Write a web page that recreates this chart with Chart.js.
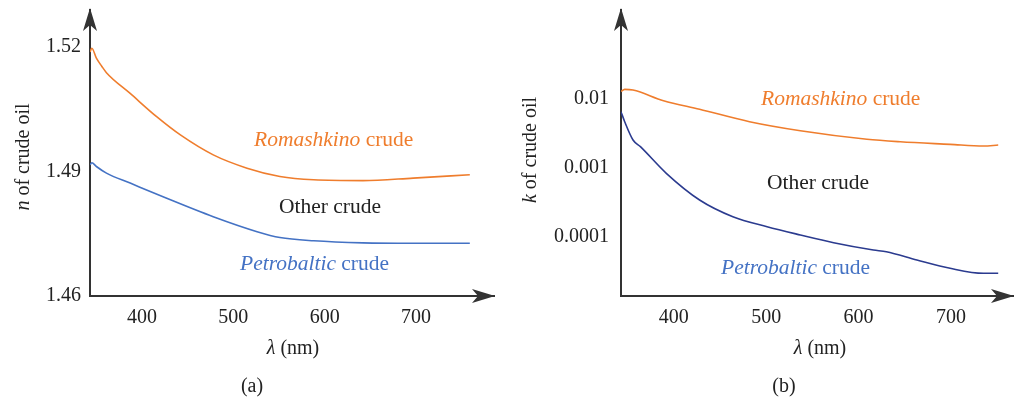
<!DOCTYPE html>
<html>
<head>
<meta charset="utf-8">
<script src="https://cdn.jsdelivr.net/npm/chart.js@4.4.1/dist/chart.umd.min.js"></script>
<style>
    body { margin: 0; background: #fff; overflow: hidden; }
    .panel { position: absolute; top: 0; width: 507px; height: 400px; }
</style>
</head>
<body>
<div class="panel" style="left:0"><canvas id="chartA" width="507" height="400"></canvas></div>
<div class="panel" style="left:507px"><canvas id="chartB" width="507" height="400"></canvas></div>
<script>
// (a) refractive index n
const lambdaRomA = [343, 345, 350, 356, 361, 387, 416, 442, 478, 515, 551, 588, 642, 697, 759];
const nRomA = [1.5188, 1.5197, 1.5173, 1.5153, 1.5138, 1.5088, 1.5032, 1.4988, 1.4940, 1.4908, 1.4888, 1.4880, 1.4878, 1.4884, 1.4892];
const lambdaPetA = [343, 345, 350, 361, 387, 423, 478, 526, 551, 588, 642, 697, 759];
const nPetA = [1.4916, 1.4921, 1.4912, 1.4896, 1.4872, 1.4839, 1.4791, 1.4755, 1.4741, 1.4733, 1.4728, 1.4727, 1.4727];

// (b) absorption index k
const lambdaRomB = [343, 347, 356, 389, 428, 482, 537, 609, 645, 699, 735, 751];
const kRomB = [0.0128, 0.0138, 0.0135, 0.00945, 0.0071, 0.00469, 0.00347, 0.00261, 0.0024, 0.0022, 0.00208, 0.00215];
const lambdaPetB = [343, 347, 356, 364, 392, 428, 464, 501, 537, 573, 616, 630, 663, 699, 735, 751];
const kPetB = [0.00654, 0.00469, 0.00255, 0.00204, 0.000838, 0.000344, 0.000197, 0.000141, 0.000107, 0.0000827, 0.0000648, 0.0000612, 0.0000465, 0.0000352, 0.0000298, 0.0000298];

const xTicks = [400, 500, 600, 700];
const yTicksA = [1.46, 1.49, 1.52];
const yTicksB = [0.0001, 0.001, 0.01];

const ORANGE = "#ef7d2d";
const BLUE = "#4472c4";
const NAVY = "#2b3b8f";
const INK = "#222";
const AXIS = "#333";
const SERIF = "'Liberation Serif', 'DejaVu Serif', serif";

function pts(xs, ys) {
    return xs.map((x, i) => ({ x: x, y: ys[i] }));
}

function lineSet(data, color) {
    return {
        data: data,
        borderColor: color,
        borderWidth: 1.6,
        pointRadius: 0,
        fill: false,
        cubicInterpolationMode: "monotone"
    };
}

function drawMixed(ctx, parts, x, y, size) {
    ctx.textBaseline = "middle";
    ctx.textAlign = "left";
    parts.forEach(p => {
        ctx.font = (p.italic ? "italic " : "") + size + "px " + SERIF;
        ctx.fillStyle = p.color;
        ctx.fillText(p.t, x, y);
        x += ctx.measureText(p.t).width;
    });
}

function decor(cfg) {
    return {
        id: "decor",
        afterDraw(chart) {
            const ctx = chart.ctx;
            const a = chart.chartArea;
            ctx.save();
            // arrow heads
            ctx.fillStyle = AXIS;
            ctx.beginPath();
            ctx.moveTo(a.left, 8);
            ctx.lineTo(a.left - 7, 31);
            ctx.lineTo(a.left, 25);
            ctx.lineTo(a.left + 7, 31);
            ctx.closePath();
            ctx.fill();
            const tip = a.right + 1;
            ctx.beginPath();
            ctx.moveTo(tip, a.bottom);
            ctx.lineTo(tip - 23, a.bottom - 7);
            ctx.lineTo(tip - 17, a.bottom);
            ctx.lineTo(tip - 23, a.bottom + 7);
            ctx.closePath();
            ctx.fill();

            // curve labels
            cfg.notes.forEach(n => drawMixed(ctx, n.parts, n.x, n.y, 21.5));

            // y title (rotated)
            ctx.translate(cfg.yTitle.x, cfg.yTitle.y);
            ctx.rotate(-Math.PI / 2);
            ctx.font = "italic 20px " + SERIF;
            const w1 = ctx.measureText(cfg.yTitle.sym).width;
            ctx.font = "20px " + SERIF;
            const w2 = ctx.measureText(" of crude oil").width;
            drawMixed(ctx, [
                { t: cfg.yTitle.sym, italic: true, color: INK },
                { t: " of crude oil", italic: false, color: INK }
            ], -(w1 + w2) / 2, 0, 20);
            ctx.setTransform(1, 0, 0, 1, 0, 0);

            // x title and panel tag
            ctx.font = "italic 20px " + SERIF;
            const l1 = ctx.measureText("λ").width;
            ctx.font = "20px " + SERIF;
            const l2 = ctx.measureText(" (nm)").width;
            drawMixed(ctx, [
                { t: "λ", italic: true, color: INK },
                { t: " (nm)", italic: false, color: INK }
            ], cfg.xTitleX - (l1 + l2) / 2, 349, 20);
            ctx.textAlign = "center";
            ctx.fillStyle = INK;
            ctx.fillText(cfg.tag, cfg.tagX, 387);
            ctx.restore();
        }
    };
}

function makeChart(id, opts) {
    new Chart(document.getElementById(id).getContext("2d"), {
        type: "line",
        data: { datasets: opts.datasets },
        options: {
            responsive: false,
            animation: false,
            layout: { padding: { top: 10, right: opts.padRight, left: 0, bottom: 0 } },
            plugins: { legend: { display: false }, tooltip: { enabled: false } },
            scales: {
                x: {
                    type: "linear",
                    min: 343,
                    max: opts.xMax,
                    grid: { display: false, drawTicks: false },
                    border: { display: true, color: AXIS, width: 2 },
                    afterBuildTicks: s => { s.ticks = xTicks.map(v => ({ value: v })); },
                    afterFit: s => { s.height = 104; s.paddingLeft = 0; s.paddingRight = 0; },
                    ticks: { color: INK, padding: 10, font: { family: SERIF, size: 20 } }
                },
                y: {
                    type: opts.yType,
                    min: opts.yMin,
                    max: opts.yMax,
                    grid: { display: false, drawTicks: false },
                    border: { display: true, color: AXIS, width: 2 },
                    afterBuildTicks: s => { s.ticks = opts.yTicks.map(v => ({ value: v })); },
                    afterFit: s => { s.width = opts.axisLeft; s.paddingTop = 0; s.paddingBottom = 0; },
                    ticks: {
                        color: INK,
                        padding: opts.yPad,
                        font: { family: SERIF, size: 20 },
                        callback: v => String(v)
                    }
                }
            }
        },
        plugins: [decor(opts.decor)]
    });
}

document.addEventListener("DOMContentLoaded", function () {
    makeChart("chartA", {
        datasets: [
            lineSet(pts(lambdaRomA, nRomA), ORANGE),
            lineSet(pts(lambdaPetA, nPetA), BLUE)
        ],
        xMax: 785.5,
        padRight: 13,
        axisLeft: 90,
        yType: "linear",
        yMin: 1.46,
        yMax: 1.5289,
        yTicks: yTicksA,
        yPad: 9,
        decor: {
            notes: [
                { x: 254, y: 140, parts: [{ t: "Romashkino", italic: true, color: ORANGE }, { t: " crude", color: ORANGE }] },
                { x: 279, y: 207, parts: [{ t: "Other crude", color: INK }] },
                { x: 240, y: 264, parts: [{ t: "Petrobaltic", italic: true, color: BLUE }, { t: " crude", color: BLUE }] }
            ],
            yTitle: { sym: "n", x: 24, y: 157 },
            xTitleX: 293,
            tag: "(a)",
            tagX: 252
        }
    });

    makeChart("chartB", {
        datasets: [
            lineSet(pts(lambdaRomB, kRomB), ORANGE),
            lineSet(pts(lambdaPetB, kPetB), NAVY)
        ],
        xMax: 767,
        padRight: 1,
        axisLeft: 114,
        yType: "logarithmic",
        yMin: 0.00001396,
        yMax: 0.195,
        yTicks: yTicksB,
        yPad: 12,
        decor: {
            notes: [
                { x: 254, y: 99, parts: [{ t: "Romashkino", italic: true, color: ORANGE }, { t: " crude", color: ORANGE }] },
                { x: 260, y: 183, parts: [{ t: "Other crude", color: INK }] },
                { x: 214, y: 268, parts: [{ t: "Petrobaltic", italic: true, color: BLUE }, { t: " crude", color: BLUE }] }
            ],
            yTitle: { sym: "k", x: 24, y: 150 },
            xTitleX: 313,
            tag: "(b)",
            tagX: 277
        }
    });
});
</script>
</body>
</html>
